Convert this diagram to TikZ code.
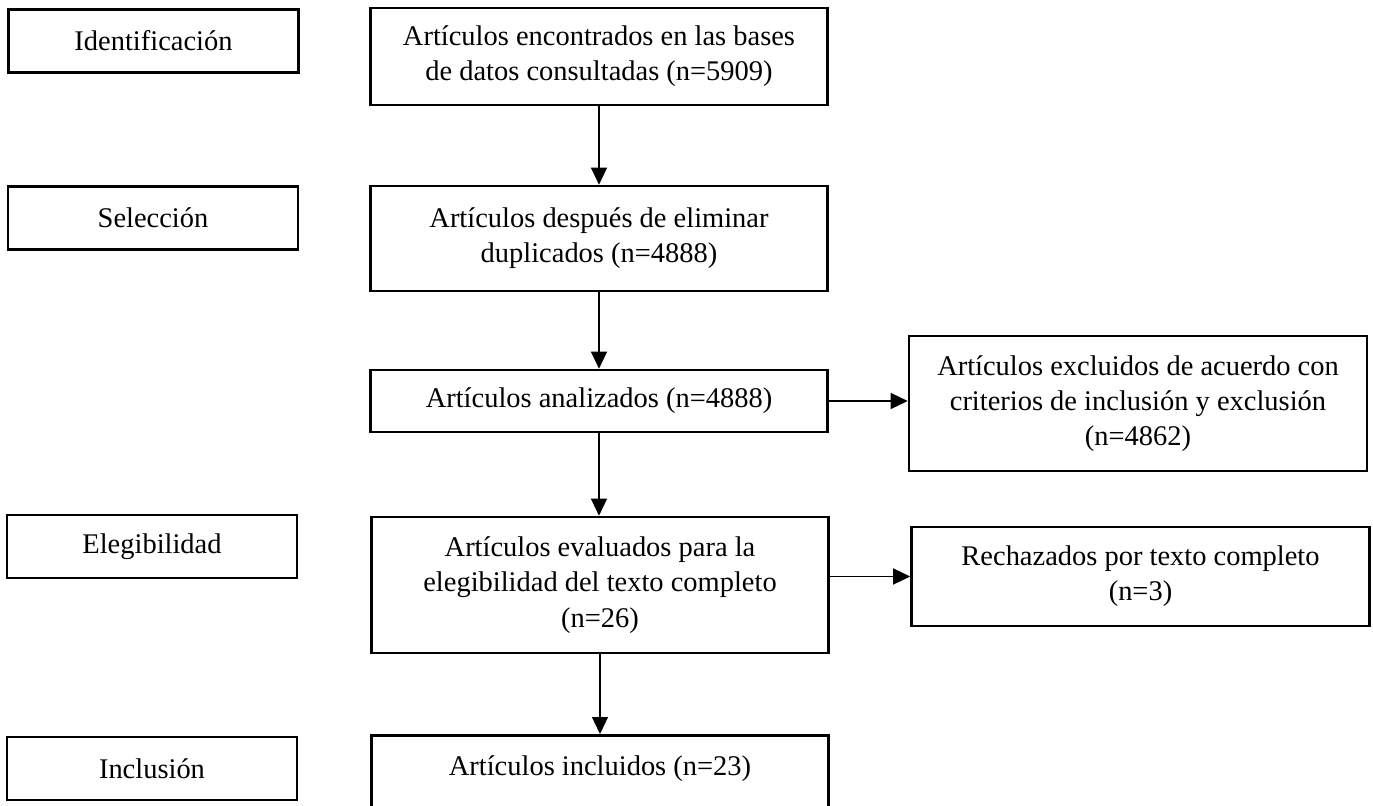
\documentclass[tikz,border=0pt]{standalone}
\usepackage{fontspec}
\setmainfont{Liberation Serif}
\usetikzlibrary{arrows.meta}

\begin{document}
\begin{tikzpicture}[x=0.02cm, y=-0.02cm,
	every node/.style={font=\fontsize{16.2}{20}\selectfont, align=center, line width=1.5pt},
	etapa/.style={draw, minimum width=5.8cm, minimum height=1.26cm},
	caja/.style={draw, minimum width=9.14cm, inner sep=0pt},
	lateral/.style={draw, minimum width=9.16cm, inner sep=0pt},
	flecha/.style={-{Triangle[length=0.34cm,width=0.32cm]}, line width=0.7pt}]

	\useasboundingbox (0,0) rectangle (1373,805);

	\node[etapa] (ident) at (153.5,41) {Identificación};
	\node[etapa] (selec) at (153,218) {Selección};
	\node[etapa] (elegi) at (152,546.5) {Elegibilidad};
	\node[etapa] (inclu) at (152,768.5) {Inclusión};

	\node[caja, minimum height=1.94cm] (encontrados) at (599,56.5) {Artículos encontrados en las bases\\de datos consultadas (n=5909)};
	\node[caja, minimum height=2.1cm] (duplicados) at (599,238.5) {Artículos después de eliminar\\duplicados (n=4888)};
	\node[caja, minimum height=1.24cm] (analizados) at (599,401) {Artículos analizados (n=4888)};
	\node[caja, minimum height=2.72cm] (evaluados) at (600,585) {Artículos evaluados para la\\elegibilidad del texto completo\\(n=26)};
	\node[caja, minimum height=1.72cm, text depth=15pt, anchor=north] (incluidos) at (600,734) {Artículos incluidos (n=23)};

	\node[lateral, minimum height=2.7cm] (excluidos) at (1138,403.5) {Artículos excluidos de acuerdo con\\criterios de inclusión y exclusión\\(n=4862)};
	\node[lateral, minimum height=1.98cm] (rechazados) at (1140.5,576.5) {Rechazados por texto completo\\(n=3)};

	\draw[flecha] (encontrados) -- (duplicados);
	\draw[flecha] (duplicados) -- (analizados);
	\draw[flecha] (analizados.south) -- (analizados.south |- evaluados.north);
	\draw[flecha] (evaluados) -- (incluidos);
	\draw[flecha] (analizados.east) -- (analizados.east -| excluidos.west);
	\draw[flecha] (evaluados.east |- rechazados.west) -- (rechazados.west);
\end{tikzpicture}
\end{document}
